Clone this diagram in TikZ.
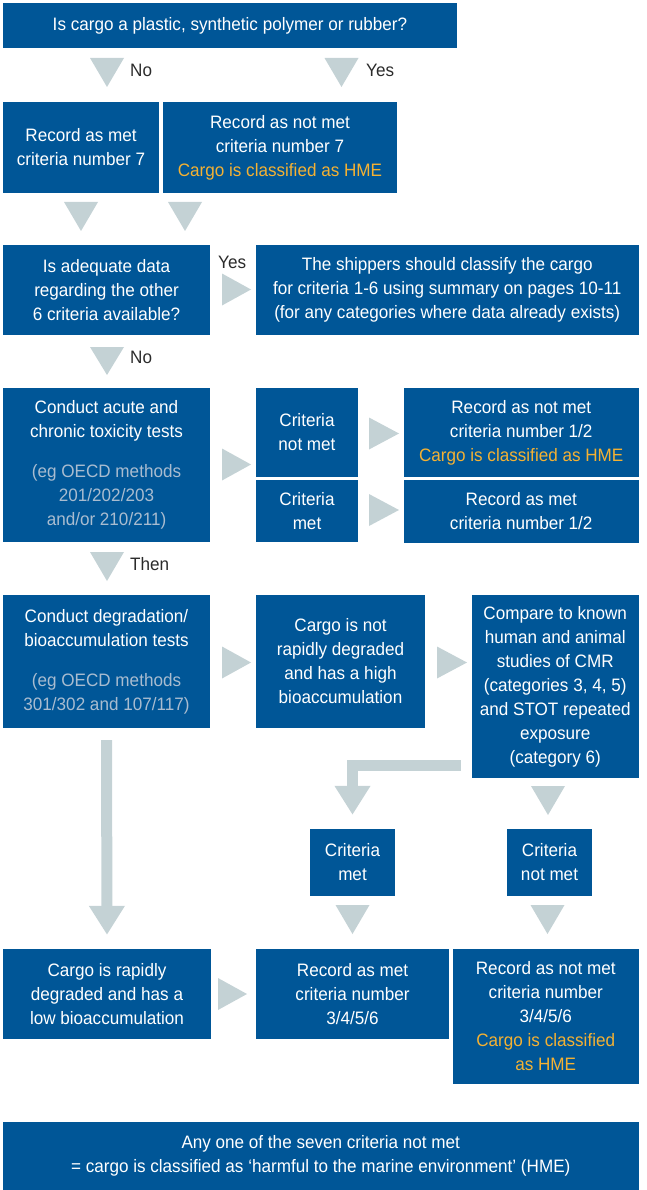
\documentclass[tikz,border=0pt]{standalone}
\usepackage{fontspec}
\setmainfont{Liberation Sans}[FakeStretch=0.95]
\usetikzlibrary{arrows.meta,calc}
\definecolor{boxblue}{HTML}{005697}
\definecolor{arrowgray}{HTML}{C4D2D5}
\definecolor{hmeorange}{HTML}{F4B133}
\definecolor{softgray}{HTML}{A9BCD0}
\definecolor{labelgray}{HTML}{2B2B2B}
\newcommand\hme[1]{\textcolor{hmeorange}{#1}}
\newcommand\gtx[1]{\textcolor{softgray}{#1}}
\tikzset{
  box/.style={fill=boxblue, text=white, inner sep=0pt, align=center,
    font=\fontsize{18}{24}\selectfont},
  lbl/.style={text=labelgray, inner sep=0pt, anchor=west,
    font=\fontsize{18}{24}\selectfont},
  arrowc/.style={fill=arrowgray},
  bar/.style={draw=arrowgray, line width=11pt, line join=miter,
    -{Triangle[width=34pt,length=29pt,fill=arrowgray,color=arrowgray]}},
}
\newcommand\bxnode[6]{\node[box,minimum width={(#4-#2)*1pt},minimum height={(#5-#3)*1pt}] (#1) at ({(#2+#4)/2},{(#3+#5)/2}) {#6};}
\newcommand\dtri[3]{\fill[arrowc] ({#1-17},#2) -- ({#1+17},#2) -- (#1,#3) -- cycle;}
\newcommand\rtri[3]{\fill[arrowc] (#1,{#3-16}) -- (#1,{#3+16}) -- (#2,#3) -- cycle;}
\begin{document}
\begin{tikzpicture}[x=1pt,y=-1pt]
\useasboundingbox (0,0) rectangle (646,1190);
% boxes
\bxnode{q1}{3}{3}{457}{48}{Is cargo a plastic, synthetic polymer or rubber?}
\bxnode{rsevmet}{3}{102}{159}{193}{Record as met\\criteria number 7}
\bxnode{rsevnot}{163}{102}{397}{193}{Record as not met\\criteria number 7\\\hme{Cargo is classified as HME}}
\bxnode{q2}{3}{245}{210}{335}{Is adequate data\\regarding the other\\6 criteria available?}
\bxnode{ship}{256}{245}{638.5}{335}{The shippers should classify the cargo\\for criteria 1-6 using summary on pages 10-11\\(for any categories where data already exists)}
\bxnode{tox}{3}{388}{210}{542}{Conduct acute and\\chronic toxicity tests\\[16pt]\gtx{(eg OECD methods}\\\gtx{201/202/203}\\\gtx{and/or 210/211)}}
\bxnode{tnot}{256}{388}{358}{477}{Criteria\\not met}
\bxnode{tmet}{256}{480}{358}{542}{Criteria\\met}
\bxnode{ronenot}{404}{388}{638.5}{477}{Record as not met\\criteria number 1/2\\\hme{Cargo is classified as HME}}
\bxnode{ronemet}{404}{480}{638.5}{543}{Record as met\\criteria number 1/2}
\bxnode{deg}{3}{595}{210}{728}{Conduct degradation/\\bioaccumulation tests\\[16pt]\gtx{(eg OECD methods}\\\gtx{301/302 and 107/117)}}
\bxnode{notrap}{256}{595}{425}{728}{Cargo is not\\rapidly degraded\\and has a high\\bioaccumulation}
\bxnode{cmp}{472}{595}{638.5}{778}{Compare to known\\human and animal\\studies of CMR\\(categories 3, 4, 5)\\and STOT repeated\\exposure\\(category 6)}
\bxnode{cmet}{310}{829}{395}{896}{Criteria\\met}
\bxnode{cnot}{507}{829}{592}{896}{Criteria\\not met}
\bxnode{rap}{3}{949}{211}{1039}{Cargo is rapidly\\degraded and has a\\low bioaccumulation}
\bxnode{rthmet}{256}{949}{449}{1039}{Record as met\\criteria number\\3/4/5/6}
\bxnode{rthnot}{453}{949}{638.5}{1084}{Record as not met\\criteria number\\3/4/5/6\\\hme{Cargo is classified}\\\hme{as HME}}
\bxnode{fin}{3}{1122}{638.5}{1190}{Any one of the seven criteria not met\\= cargo is classified as ‘harmful to the marine environment’ (HME)}
% triangle arrows
\dtri{107}{58}{87}
\dtri{341.5}{58}{87}
\dtri{81}{202}{231}
\dtri{185}{202}{231}
\dtri{107}{347}{375}
\dtri{107}{552}{581}
\dtri{548}{786}{815}
\dtri{352.5}{905}{934}
\dtri{547.5}{905}{934}
\rtri{222}{251}{289.5}
\rtri{222}{251}{464.5}
\rtri{369}{399}{433.5}
\rtri{369}{399}{510}
\rtri{222}{251}{662.5}
\rtri{437}{467}{662.5}
\rtri{218}{247}{994}
% long connectors
\draw[bar] ([yshift=-12pt]deg.south) -- ([yshift=14pt]rap.north);
\coordinate (bend) at ([xshift=-11pt]cmp.west |- 0,765.5);
\draw[bar] (bend) -| ([yshift=14pt]cmet.north);
% labels
\node[lbl] (lno) at (130,70) {No};
\node[lbl] (lyes) at (366,70) {Yes};
\node[lbl] (lyestwo) at (218,262) {Yes};
\node[lbl] (lnotwo) at (130,357) {No};
\node[lbl] (lthen) at (130,564) {Then};
\end{tikzpicture}
\end{document}
